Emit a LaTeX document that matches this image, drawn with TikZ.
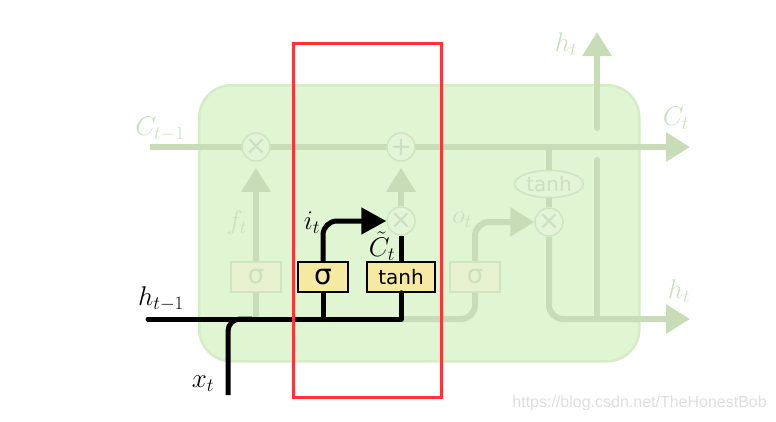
\RequirePackage{fix-cm}
\documentclass[tikz,border=0pt]{standalone}
\usepackage{fontspec}
\newfontfamily\dv{DejaVu Sans}
\newfontfamily\lib{Liberation Sans}
\usetikzlibrary{arrows.meta,shapes.geometric}
\definecolor{cellfill}{RGB}{224,245,210}
\definecolor{cellbord}{RGB}{214,236,198}
\definecolor{fadeline}{RGB}{199,220,183}
\definecolor{fadetext}{RGB}{203,224,190}
\definecolor{fadebord}{RGB}{208,228,192}
\definecolor{fadebox}{RGB}{232,242,208}
\definecolor{opfill}{RGB}{228,245,215}
\definecolor{gateyellow}{RGB}{246,234,162}
\definecolor{redc}{RGB}{255,51,51}
\definecolor{wm}{RGB}{222,222,222}
\pgfdeclarelayer{bg}
\pgfdeclarelayer{lines}
\pgfsetlayers{bg,lines,main}
\begin{document}
\begin{tikzpicture}[x=1pt,y=-1pt,
  fline/.style={draw=fadeline,line width=6pt},
  bline/.style={draw=black,line width=5pt},
  ftip/.style={-{Triangle[length=24pt,width=28pt]}},
  btip/.style={-{Triangle[length=25pt,width=26pt]}},
  fgate/.style={draw=fadebord,fill=fadebox,line width=1.5pt,minimum width=50pt,minimum height=30pt,inner sep=0pt,text=fadetext,font=\dv\fontsize{26}{26}\selectfont},
  bgate/.style={draw=black,fill=gateyellow,line width=1.5pt,minimum height=30pt,inner sep=0pt},
  fop/.style={circle,draw=fadebord,fill=opfill,line width=1.5pt,minimum size=28pt,inner sep=0pt,text=fadetext,font=\dv\fontsize{26}{26}\selectfont},
  lab/.style={font=\fontsize{27}{30}\selectfont,inner sep=0pt},
  flab/.style={lab,text=fadetext}]
\useasboundingbox (0,0) rectangle (776,421);
\begin{pgfonlayer}{bg}
\node[draw=cellbord,fill=cellfill,line width=2.5pt,rounded corners=32pt,minimum width=440pt,minimum height=276pt,anchor=north west] (cell) at (198,84) {};
\end{pgfonlayer}
% operators and gates
\node[fop] (fx) at (256,147) {×};
\node[fop] (cp) at (401,147) {+};
\node[fop] (ix) at (401,221) {×};
\node[fop] (ox) at (549,222) {×};
\node[fgate] (fs) at (256,277) {σ};
\node[bgate,minimum width=50pt,font=\dv\fontsize{28}{28}\selectfont] (is) at (323,277) {σ};
\node[bgate,minimum width=68pt,font=\dv\fontsize{20}{20}\selectfont] (it) at (401,277) {tanh};
\node[fgate] (os) at (475,277) {σ};
\node[ellipse,draw=fadebord,fill=opfill,line width=1.5pt,minimum width=69pt,minimum height=27pt,inner sep=0pt,text=fadetext,font=\dv\fontsize{20}{20}\selectfont] (ot) at (549,184) {tanh};
% coordinates
\coordinate (cin) at (150,147);
\coordinate (cout) at (690,147);
\coordinate (hin) at (148,319);
\coordinate (xin) at (228,395);
\coordinate (hout) at (690,319);
\coordinate (htop) at (597,32);
\coordinate (j1) at (597,128);
\coordinate (j2) at (597,160);
\coordinate (hj) at (401,319);
\coordinate (xj) at (252,319);
% faded lines
\begin{pgfonlayer}{lines}
\draw[fline,ftip] (cin) -- (cout);
\draw[fline,ftip,shorten >=6pt] (ix) -- (cp);
\draw[fline,ftip,shorten >=6pt] (fs) -- (fx);
\draw[fline] (fs.south) -- (fs.south |- hin);
\draw[fline,rounded corners=14pt] (hj) -- (os.south |- hj) -- (os.south);
\draw[fline,ftip,rounded corners=14pt] (os.north) -- (os.north |- ox) -- (ox.west);
\draw[fline] (ox.north) -- (ot.south);
\draw[fline] (ot.north) -- (ot.north |- cin);
\draw[fline,ftip,rounded corners=14pt] (ox.south) -- (ox.south |- hout) -- (hout);
\draw[fline,line cap=round] (j2) -- (j2 |- hout);
\draw[fline,ftip,line cap=round] (j1) -- (htop);
\end{pgfonlayer}
% black lines
\draw[bline,line cap=round,line join=round] (hin) -- (hj) -- (it.south);
\draw[bline] (is.south) -- (is.south |- hin);
\draw[bline,rounded corners=12pt] (xin) -- (xin |- hin) -- (xj);
\draw[bline] (it.north) -- (ix.south);
\draw[bline,btip,rounded corners=14pt] (is.north) -- (is.north |- ix) -- (ix.west);
% focus rectangle
\node[draw=redc,line width=3pt,minimum width=148pt,minimum height=354pt,inner sep=0pt] (focus) at (367,220) {};
% labels
\node[flab] (lc1) at (160,129) {$C_{t-1}$};
\node[lab] (lh1) at (161,299) {$h_{t-1}$};
\node[lab] (lx) at (203,384) {$x_t$};
\node[lab] (li) at (312,223) {$i_t$};
\node[flab] (lf) at (237,223) {$f_t$};
\node[lab] (lct) at (382,246) {$\tilde{C}_t$};
\node[flab] (lo) at (462,220) {$o_t$};
\node[flab] (lht) at (566,44) {$h_t$};
\node[flab] (lc) at (676,118) {$C_t$};
\node[flab] (lhr) at (679,291) {$h_t$};
\node[text=wm,font=\lib\fontsize{16}{16}\selectfont,anchor=east,inner sep=0pt] (mark) at (767,403) {https://blog.csdn.net/TheHonestBob};
\end{tikzpicture}
\end{document}
